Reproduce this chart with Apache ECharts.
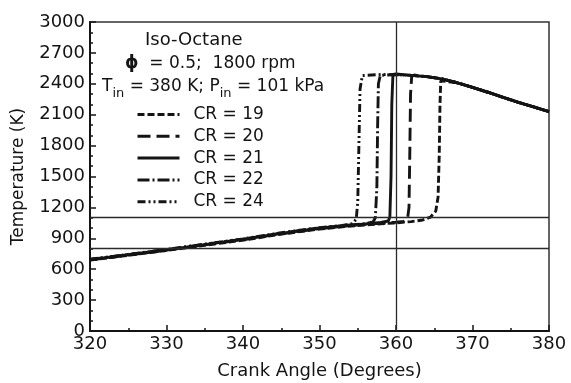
<!DOCTYPE html>
<html>
<head>
<meta charset="utf-8">
<style>
  html, body { margin: 0; padding: 0; background: #fff; }
  #chart { width: 571px; height: 383px; }
</style>
<script src="https://cdn.jsdelivr.net/npm/echarts@6/dist/echarts.min.js"></script>
</head>
<body>
<div id="chart"></div>
<script>
// Gas temperature vs crank angle, HCCI iso-octane, for five compression ratios
const seriesNames = ['CR = 19', 'CR = 20', 'CR = 21', 'CR = 22', 'CR = 24'];

const cr19Angle = [320, 330, 340, 345, 350, 353, 356, 358, 360, 362, 363.5, 364.5, 365.2, 365.5, 365.65, 365.75, 365.85, 366, 368, 370, 372, 374, 376, 378, 380];
const cr19Temp  = [688, 782, 882, 940, 990, 1012, 1030, 1040, 1050, 1062, 1078, 1105, 1165, 1300, 1700, 2200, 2430, 2448, 2410, 2365, 2318, 2268, 2220, 2175, 2130];

const cr20Angle = [320, 330, 340, 345, 350, 353, 356, 358, 360, 361, 361.5, 361.7, 361.8, 361.9, 362.05, 362.4, 364, 366, 368, 370, 372, 374, 376, 378, 380];
const cr20Temp  = [690, 785, 886, 944, 994, 1016, 1035, 1046, 1056, 1064, 1085, 1200, 1700, 2300, 2470, 2485, 2470, 2448, 2410, 2365, 2318, 2268, 2220, 2175, 2130];

const cr21Angle = [320, 330, 340, 345, 350, 353, 356, 358, 359, 359.2, 359.35, 359.45, 359.6, 360, 362, 364, 366, 368, 370, 372, 374, 376, 378, 380];
const cr21Temp  = [692, 788, 889, 948, 998, 1020, 1040, 1053, 1068, 1110, 1500, 2200, 2490, 2495, 2482, 2470, 2448, 2410, 2365, 2318, 2268, 2220, 2175, 2130];

const cr22Angle = [320, 330, 340, 345, 350, 353, 356, 357, 357.3, 357.5, 357.6, 357.7, 357.95, 360, 362, 364, 366, 368, 370, 372, 374, 376, 378, 380];
const cr22Temp  = [694, 790, 892, 951, 1001, 1023, 1043, 1058, 1100, 1400, 2000, 2400, 2482, 2490, 2482, 2470, 2448, 2410, 2365, 2318, 2268, 2220, 2175, 2130];

const cr24Angle = [320, 330, 340, 345, 350, 353, 354.3, 354.8, 355.0, 355.15, 355.3, 355.6, 358, 360, 362, 364, 366, 368, 370, 372, 374, 376, 378, 380];
const cr24Temp  = [696, 792, 895, 954, 1004, 1026, 1042, 1085, 1250, 1800, 2350, 2480, 2490, 2488, 2482, 2470, 2448, 2410, 2365, 2318, 2268, 2220, 2175, 2130];

// reference lines
const refTemps = [800, 1100];
const refAngle = 360;

const xTicks = { min: 320, max: 380, step: 10 };
const yTicks = { min: 0, max: 3000, step: 300 };

const angleSets = [cr19Angle, cr20Angle, cr21Angle, cr22Angle, cr24Angle];
const tempSets  = [cr19Temp, cr20Temp, cr21Temp, cr22Temp, cr24Temp];
const dashStyles = [
  [7, 3],
  [13, 6],
  'solid',
  [12, 3, 2, 3],
  [8, 3, 2, 3, 2, 3]
];

const FONT = 'DejaVu Sans';
const INK = '#141414';

const chart = echarts.init(document.getElementById('chart'), null, { renderer: 'canvas' });

const series = seriesNames.map((name, i) => ({
  name,
  type: 'line',
  data: angleSets[i].map((a, j) => [a, tempSets[i][j]]),
  symbol: 'none',
  showSymbol: false,
  smooth: false,
  z: 3,
  lineStyle: { color: INK, width: 2.9, type: dashStyles[i] },
  itemStyle: { color: INK }
}));

series.push({
  name: 'ref',
  type: 'line',
  data: [],
  silent: true,
  markLine: {
    silent: true,
    symbol: ['none', 'none'],
    label: { show: false },
    animation: false,
    lineStyle: { color: '#2a2a2a', width: 1.3, type: 'solid' },
    data: refTemps.map(t => ({ yAxis: t })).concat([{ xAxis: refAngle }])
  }
});

const txt = { fontFamily: FONT, fontSize: 17, color: INK, fontWeight: 'normal' };

chart.setOption({
  animation: false,
  backgroundColor: '#fff',
  grid: {
    left: 90, right: 22, top: 22, bottom: 52,
    outerBoundsMode: 'none',
    containLabel: false,
    show: true, borderColor: '#333', borderWidth: 1.5, backgroundColor: 'transparent'
  },
  title: [
    { text: 'Iso-Octane', left: 145, top: 31, padding: 0, textStyle: Object.assign({}, txt, { fontSize: 18 }) },
    {
      text: '{p|ϕ}{a|  = 0.5;  1800 rpm}', left: 125, top: 55, padding: 0,
      textStyle: Object.assign({}, txt, {
        rich: {
          p: { fontFamily: FONT, fontSize: 17, fontWeight: 'bold', color: INK },
          a: { fontFamily: FONT, fontSize: 17, color: INK }
        }
      })
    },
    {
      text: '{a|T}{s|in}{a| = 380 K; P}{s|in}{a| = 101 kPa}', left: 102, top: 78, padding: 0,
      textStyle: Object.assign({}, txt, {
        rich: {
          a: { fontFamily: FONT, fontSize: 17, color: INK, lineHeight: 17, verticalAlign: 'top' },
          s: { fontFamily: FONT, fontSize: 13, color: INK, lineHeight: 13, verticalAlign: 'top', padding: [9, 0, 0, 0] }
        }
      })
    }
  ],
  legend: {
    data: seriesNames,
    orient: 'vertical',
    left: 136,
    top: 106,
    padding: 0,
    itemWidth: 42,
    itemHeight: 12,
    itemGap: 4.8,
    itemStyle: { opacity: 0 },
    lineStyle: { width: 3 },
    textStyle: Object.assign({}, txt, { lineHeight: 17, padding: [0, 0, 0, 9] }),
    inactiveColor: INK,
    selectedMode: false
  },
  xAxis: {
    type: 'value',
    min: xTicks.min, max: xTicks.max, interval: xTicks.step,
    name: 'Crank Angle (Degrees)',
    nameLocation: 'middle',
    nameGap: 31,
    nameTextStyle: Object.assign({}, txt, { fontSize: 18 }),
    axisLine: { show: true, onZero: false, lineStyle: { color: INK, width: 2 } },
    axisTick: { show: true, inside: true, length: 6, lineStyle: { color: INK, width: 1.5 } },
    minorTick: { show: true, splitNumber: 2, length: 3, lineStyle: { color: INK, width: 1.5 } },
    axisLabel: Object.assign({ margin: 4 }, txt, { fontSize: 18 }),
    splitLine: { show: false }
  },
  yAxis: {
    type: 'value',
    min: yTicks.min, max: yTicks.max, interval: yTicks.step,
    name: 'Temperature (K)',
    nameLocation: 'middle',
    nameGap: 63,
    nameTextStyle: Object.assign({}, txt, { fontSize: 17 }),
    axisLine: { show: true, onZero: false, lineStyle: { color: INK, width: 2 } },
    axisTick: { show: true, inside: true, length: 6, lineStyle: { color: INK, width: 1.5 } },
    minorTick: { show: true, splitNumber: 3, length: 3, lineStyle: { color: INK, width: 1.5 } },
    axisLabel: Object.assign({ margin: 5, formatter: v => String(v) }, txt, { fontSize: 18 }),
    splitLine: { show: false }
  },
  series
});
</script>
</body>
</html>
